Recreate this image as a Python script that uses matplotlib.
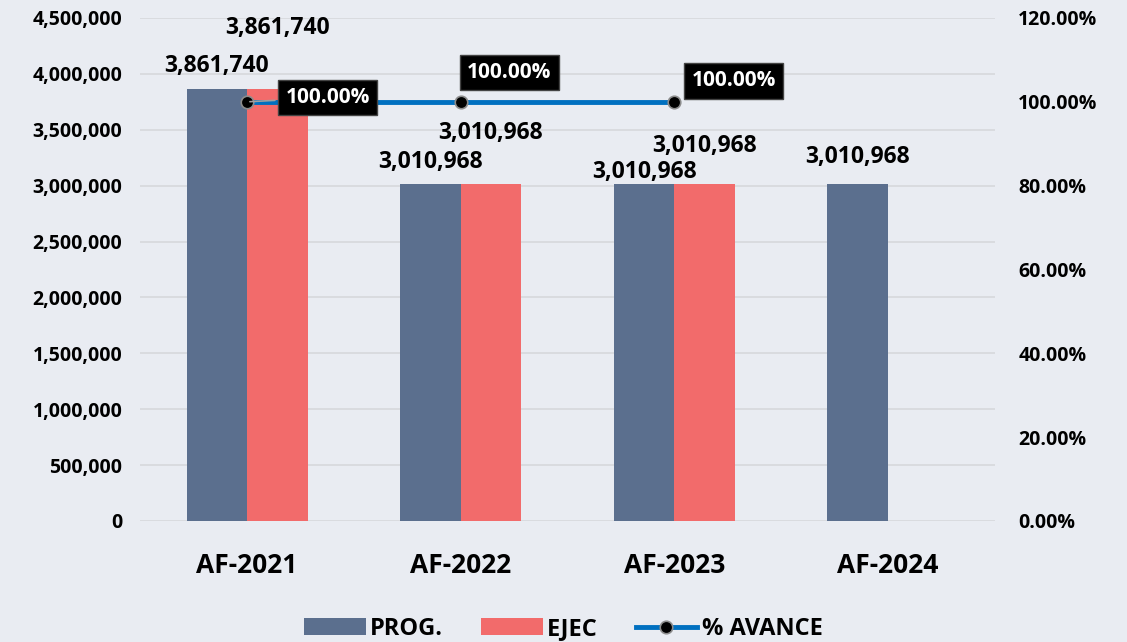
import matplotlib
matplotlib.use('Agg')
import matplotlib.pyplot as plt
import matplotlib.ticker as mticker
import numpy as np

categories = ['AF-2021', 'AF-2022', 'AF-2023', 'AF-2024']
prog = [3861740, 3010968, 3010968, 3010968]
ejec = [3861740, 3010968, 3010968, np.nan]
avance = [100.0, 100.0, 100.0, np.nan]

# label offsets (points) picked to mimic the original
progOff = [17, 16, 9, 20]
ejecOff = [44, 37, 28, None]
pctOff = [(58, 3), (35, 21), (43, 15)]

bg = '#E9ECF2'
progColor = '#5B6F8E'
ejecColor = '#F26B6B'
lineColor = '#0070C0'

plt.rcParams['font.family'] = ['Open Sans', 'DejaVu Sans']
plt.rcParams['font.weight'] = 'bold'

fig = plt.figure(figsize=(11.27, 6.42), dpi=100, facecolor=bg)
ax = fig.add_axes([0.1245, 0.1885, 0.758, 0.7835])
ax.set_facecolor(bg)
ax2 = ax.twinx()

x = np.arange(len(categories))
w = 0.283

ax.bar(x - w/2, prog, w, color=progColor, label='PROG.', zorder=2)
ax.bar(x + w/2, ejec, w, color=ejecColor, label='EJEC', zorder=2)

ax.set_ylim(0, 4500000)
ax.set_xlim(-0.5, 3.5)
ax.yaxis.set_major_locator(mticker.MultipleLocator(500000))
ax.yaxis.set_major_formatter(mticker.FuncFormatter(lambda v, p: '{:,.0f}'.format(v)))
ax.grid(axis='y', color='#D6D8DC', linewidth=1.2, zorder=0)
ax.set_axisbelow(True)
ax.set_xticks(x)
ax.set_xticklabels(categories, fontsize=19, fontweight='bold')
ax.tick_params(axis='x', length=0, pad=22)
ax.tick_params(axis='y', length=0, labelsize=14, pad=13)
for s in ax.spines.values():
  s.set_visible(False)

for i in range(len(categories)):
  ax.annotate('{:,.0f}'.format(prog[i]), (x[i] - w/2, prog[i]), xytext=(0, progOff[i]),
              textcoords='offset points', ha='center', va='center', fontsize=16.5, fontweight='bold')
  if not np.isnan(ejec[i]):
    ax.annotate('{:,.0f}'.format(ejec[i]), (x[i] + w/2, ejec[i]), xytext=(0, ejecOff[i]),
                textcoords='offset points', ha='center', va='center', fontsize=16.5, fontweight='bold')

ax2.plot(x, avance, color=lineColor, linewidth=3.5, marker='o', markersize=9,
         markerfacecolor='black', markeredgecolor='#8C8C8C', markeredgewidth=1.2,
         label='% AVANCE', zorder=3)
ax2.set_ylim(0, 120)
ax2.yaxis.set_major_locator(mticker.MultipleLocator(20))
ax2.yaxis.set_major_formatter(mticker.FuncFormatter(lambda v, p: '{:.2f}%'.format(v)))
ax2.tick_params(axis='y', length=0, labelsize=14, pad=17)
for s in ax2.spines.values():
  s.set_visible(False)

for i, off in enumerate(pctOff):
  ax2.annotate('{:.2f}%'.format(avance[i]), (x[i], avance[i]), xytext=off,
               textcoords='offset points', ha='center', va='center', fontsize=15,
               fontweight='bold', color='white',
               bbox=dict(boxstyle='square,pad=0.35', fc='black', ec='#444444'),
               arrowprops=dict(arrowstyle='-', color='#A0A0A0', lw=1.2) if i == 0 else None,
               zorder=5)

h1, l1 = ax.get_legend_handles_labels()
h2, l2 = ax2.get_legend_handles_labels()
leg = fig.legend(h1 + h2, l1 + l2, loc='center', bbox_to_anchor=(0.5, 1 - 629/642),
                 ncol=3, frameon=False, fontsize=17, handlelength=2.6, columnspacing=1.6,
                 handletextpad=0.2)
for t in leg.get_texts():
  t.set_fontweight('bold')

fig.savefig('out.png', dpi=100, facecolor=bg)
